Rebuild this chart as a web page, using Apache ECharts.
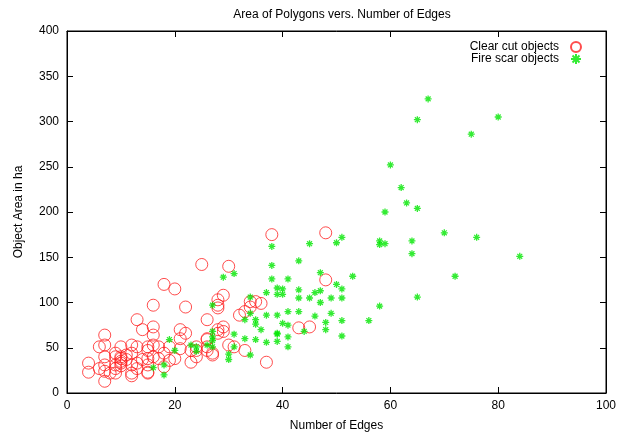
<!DOCTYPE html>
<html>
<head>
<meta charset="utf-8">
<script src="https://cdn.jsdelivr.net/npm/echarts@6/dist/echarts.min.js"></script>
<style>
  html, body { margin: 0; padding: 0; background: #fff; }
  #chart { width: 633px; height: 432px; }
</style>
</head>
<body>
<div id="chart"></div>
<script>
// [edges, area in ha]
const clearCut = [
  [4, 33], [4, 23], [6, 27], [6, 51], [7, 64], [7, 53], [7, 40], [7, 31], [7, 24], [7, 13], [8, 22],
  [9, 40], [9, 44], [9, 31], [9, 27], [9, 22],
  [10, 40], [10, 38], [10, 35], [10, 33], [10, 51], [10, 30],
  [11, 37], [11, 42], [12, 53], [12, 44], [12, 31], [12, 19], [12, 22],
  [13, 81], [13, 33], [13, 51], [14, 70], [14, 37], [13, 27],
  [15, 51], [15, 47], [15, 38], [15, 31], [15, 23], [15, 22],
  [16, 97], [16, 73], [16, 64], [16, 53], [16, 40],
  [17, 51], [17, 38], [18, 44], [18, 29], [18, 120],
  [19, 51], [19, 36], [20, 115], [20, 38], [21, 70], [21, 60], [22, 66], [22, 95], [21, 49],
  [23, 34], [23, 47], [24, 40], [24, 47], [24, 51],
  [25, 142], [26, 81], [26, 59], [26, 51], [26, 60], [26, 47], [27, 42], [27, 44],
  [28, 97], [28, 103], [28, 70], [28, 66], [28, 94], [29, 108], [29, 73], [29, 68],
  [30, 140], [30, 53], [31, 51], [32, 86], [33, 90], [33, 47], [34, 95], [34, 101], [35, 101], [36, 99],
  [37, 34], [38, 175], [43, 72], [45, 73], [48, 177], [48, 125]
];

const fireScar = [
  [16, 28], [18, 31], [18, 20], [19, 59], [20, 47], [23, 53], [24, 51], [24, 46], [26, 53], [27, 51],
  [27, 58], [27, 62], [27, 68], [27, 97], [29, 128], [30, 43], [30, 37], [31, 132], [31, 65], [31, 51],
  [33, 81], [33, 60], [34, 42], [34, 88], [34, 106], [35, 81], [35, 76], [35, 59], [36, 70], [37, 111],
  [37, 86], [37, 56], [38, 162], [38, 141], [38, 126], [39, 86], [39, 66], [39, 57], [39, 116], [39, 109],
  [39, 65], [40, 115], [40, 109], [40, 77], [41, 75], [41, 126], [41, 90], [41, 62], [41, 51],
  [43, 146], [43, 114], [43, 105], [43, 90], [44, 68], [45, 165], [45, 105], [46, 111], [46, 85],
  [47, 113], [47, 100], [47, 133], [48, 78], [48, 70], [49, 105], [49, 88], [50, 166], [50, 120],
  [51, 172], [51, 115], [51, 105], [51, 80], [51, 63], [53, 129], [56, 80], [58, 96], [58, 168],
  [58, 164], [59, 165], [59, 200], [60, 252], [62, 227], [63, 210], [64, 168], [64, 154], [65, 302],
  [65, 204], [65, 106], [67, 325], [70, 177], [72, 129], [75, 286], [76, 172], [80, 305], [84, 151]
];

const FONT = 'Liberation Sans';
const star = 'path://M0,5L10,5M5,0L5,10M1.5,1.5L8.5,8.5M8.5,1.5L1.5,8.5';
const clear = 'rgba(0,0,0,0)';

const chart = echarts.init(document.getElementById('chart'));

function frameLine() { return { show: true, onZero: false, lineStyle: { color: '#000', width: 1 } }; }
function tick() { return { show: true, inside: true, length: 6, lineStyle: { color: '#000', width: 1 } }; }

chart.setOption({
  animation: false,
  title: {
    text: 'Area of Polygons vers. Number of Edges',
    left: 337, top: 4, textAlign: 'center',
    textStyle: { fontFamily: FONT, fontSize: 12, fontWeight: 'normal', color: '#000' }
  },
  legend: {
    right: 46, top: 36, orient: 'vertical', align: 'right',
    itemGap: 0, itemWidth: 24, itemHeight: 10,
    textStyle: { fontFamily: FONT, fontSize: 12, lineHeight: 12, color: '#000' },
    data: ['Clear cut objects', 'Fire scar objects']
  },
  grid: {
    left: 67, right: 27, top: 31, bottom: 39, outerBoundsMode: 'none',
    show: true, borderColor: '#000', borderWidth: 1, backgroundColor: clear
  },
  xAxis: [{
    type: 'value', min: 0, max: 100, interval: 20,
    name: 'Number of Edges', nameLocation: 'middle', nameGap: 27,
    nameTextStyle: { fontFamily: FONT, fontSize: 12, color: '#000' },
    axisLine: frameLine(), axisTick: tick(), splitLine: { show: false },
    axisLabel: { fontFamily: FONT, fontSize: 12, color: '#000', margin: 7 }
  }, {
    // mirrored axis, only for the ticks along the top edge
    type: 'value', min: 0, max: 100, interval: 20, position: 'top',
    axisLine: frameLine(), axisTick: tick(),
    splitLine: { lineStyle: { color: clear } },
    axisLabel: { color: clear }
  }],
  yAxis: [{
    type: 'value', min: 0, max: 400, interval: 50,
    name: 'Object Area in ha', nameLocation: 'middle', nameGap: 42,
    nameTextStyle: { fontFamily: FONT, fontSize: 12, color: '#000' },
    axisLine: frameLine(), axisTick: tick(), splitLine: { show: false },
    axisLabel: { fontFamily: FONT, fontSize: 12, color: '#000', margin: 8 }
  }, {
    type: 'value', min: 0, max: 400, interval: 50, position: 'right',
    axisLine: frameLine(), axisTick: tick(),
    splitLine: { lineStyle: { color: clear } },
    axisLabel: { color: clear }
  }],
  series: [{
    name: 'Clear cut objects', type: 'scatter', data: clearCut,
    symbol: 'circle', symbolSize: 12,
    itemStyle: { color: clear, borderColor: '#ff2020', borderWidth: 1 }
  }, {
    name: 'Fire scar objects', type: 'scatter', data: fireScar,
    xAxisIndex: 1, yAxisIndex: 1,
    symbol: star, symbolSize: 7,
    itemStyle: { color: clear, borderColor: '#00e600', borderWidth: 1.3 }
  }]
});
</script>
</body>
</html>
